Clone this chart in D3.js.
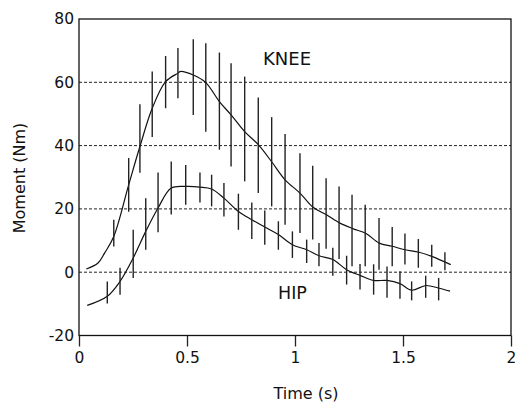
<!DOCTYPE html>
<html>
<head>
<meta charset="utf-8">
<script src="https://cdn.jsdelivr.net/npm/d3@7/dist/d3.min.js"></script>
<title>Knee and hip moment</title>
<style>
body {
	margin: 0;
	background: white;
}
svg text {
	font-family: "DejaVu Sans", "Liberation Sans", Arial, sans-serif;
	fill: #111;
}
</style>
</head>
<body>
<div id="graph"></div>
<script>

// -- data

var xTicks = [0, 0.5, 1, 1.5, 2];
var yTicks = [-20, 0, 20, 40, 60, 80];
var gridLines = [0, 20, 40, 60];

// knee mean curve
var kneeCurveT = [0.034, 0.088, 0.119, 0.161, 0.230, 0.282, 0.339, 0.401, 0.458, 0.468,
	0.529, 0.587, 0.650, 0.704, 0.767, 0.830, 0.892, 0.954, 1.023, 1.082,
	1.144, 1.208, 1.270, 1.329, 1.390, 1.450, 1.509, 1.574, 1.633, 1.721];
var kneeCurveV = [1.0, 2.9, 6.1, 11.3, 27.6, 39.7, 51.8, 60.2, 62.9, 63.4,
	62.3, 59.9, 53.9, 49.7, 44.4, 40.3, 34.9, 29.2, 25.0, 20.6,
	18.2, 15.5, 13.7, 12.2, 9.2, 8.2, 7.1, 6.3, 5.0, 2.4];

// knee error bars
var kneeBarT = [0.161, 0.230, 0.282, 0.339, 0.401, 0.458, 0.529, 0.587, 0.650, 0.704,
	0.767, 0.830, 0.892, 0.954, 1.023, 1.082, 1.144, 1.204, 1.264, 1.325,
	1.389, 1.450, 1.509, 1.571, 1.633, 1.694];
var kneeBarLow = [8.1, 19.1, 31.4, 42.7, 51.8, 55.0, 49.7, 44.4, 38.7, 33.4,
	28.7, 25.0, 20.8, 15.0, 12.4, 10.3, 7.4, 4.2, 1.9, 1.9,
	0.8, 1.9, 2.4, 1.4, 1.7, 0.6];
var kneeBarHigh = [16.6, 36.1, 53.1, 63.4, 68.3, 70.8, 73.6, 72.3, 69.4, 66.0,
	61.8, 55.2, 49.0, 43.7, 37.6, 33.6, 29.7, 27.1, 24.5, 21.3,
	17.1, 14.3, 12.2, 10.5, 8.7, 6.3];

// hip mean curve
var hipCurveT = [0.038, 0.131, 0.190, 0.251, 0.309, 0.366, 0.427, 0.494, 0.560, 0.614,
	0.671, 0.738, 0.800, 0.860, 0.923, 0.988, 1.054, 1.111, 1.175, 1.239,
	1.301, 1.363, 1.425, 1.486, 1.540, 1.606, 1.663, 1.718];
var hipCurveV = [-10.5, -7.6, -2.9, 4.5, 12.9, 20.3, 26.6, 27.1, 26.9, 26.3,
	23.4, 19.2, 16.6, 14.3, 11.9, 8.7, 7.1, 5.2, 4.0, 0.8,
	-1.0, -2.6, -2.6, -3.6, -5.7, -4.2, -5.0, -6.0];

// hip error bars
var hipBarT = [0.131, 0.190, 0.251, 0.309, 0.366, 0.427, 0.494, 0.560, 0.614, 0.671,
	0.738, 0.800, 0.860, 0.923, 0.988, 1.054, 1.111, 1.175, 1.239, 1.301,
	1.364, 1.426, 1.486, 1.540, 1.605, 1.665];
var hipBarLow = [-9.9, -7.1, -1.8, 7.1, 12.6, 18.2, 21.3, 22.0, 20.8, 17.6,
	13.4, 10.5, 8.7, 7.1, 4.5, 2.9, 1.9, -1.1, -3.9, -5.5,
	-7.1, -8.1, -8.4, -8.9, -8.1, -8.9];
var hipBarHigh = [-2.9, 1.4, 13.4, 23.4, 31.5, 35.0, 33.9, 31.5, 30.8, 28.2,
	24.8, 22.0, 19.5, 16.1, 12.9, 10.3, 9.2, 7.7, 5.2, 2.6,
	2.5, 1.8, 0.3, -2.9, -1.1, -1.8];

var labels = ["KNEE", "HIP"];

// -- setup

var margin = { top: 19, right: 4, bottom: 67.5, left: 79 },
	width = 515 - margin.left - margin.right,
	height = 403 - margin.top - margin.bottom;

var svg = d3.select("#graph")
	.append("svg")
		.attr("width", 515)
		.attr("height", 403)
	.append("g")
		.attr("transform", "translate(" + margin.left + "," + margin.top + ")");

var x = d3.scaleLinear().domain([0, 2]).range([0, width]);
var y = d3.scaleLinear().domain([-20, 80]).range([height, 0]);

// grid
svg.selectAll(".grid")
	.data(gridLines)
	.enter()
	.append("line")
		.attr("class", "grid")
		.attr("x1", 0)
		.attr("x2", width)
		.attr("y1", d => y(d))
		.attr("y2", d => y(d))
		.attr("stroke", "#222")
		.attr("stroke-width", 1)
		.attr("stroke-dasharray", "3,2");

// frame
svg.append("rect")
	.attr("width", width)
	.attr("height", height)
	.attr("fill", "none")
	.attr("stroke", "#111")
	.attr("stroke-width", 1.3);

// x axis
var xAxis = svg.append("g")
	.attr("transform", "translate(0," + height + ")")
	.call(d3.axisBottom(x)
		.tickValues(xTicks)
		.tickFormat(d => String(d))
		.tickSize(11)
		.tickSizeOuter(0)
		.tickPadding(5));
xAxis.select(".domain").remove();
xAxis.selectAll("line").attr("stroke", "#222").attr("stroke-width", 1.3);
xAxis.selectAll("text").style("font-size", "15.5px").attr("fill", "#111");

// y axis (plain hyphen for negatives, as in the original)
var yAxis = svg.append("g")
	.call(d3.axisLeft(y)
		.tickValues(yTicks)
		.tickFormat(d => String(d))
		.tickSize(0)
		.tickPadding(5));
yAxis.select(".domain").remove();
yAxis.selectAll("text").style("font-size", "15.5px").attr("fill", "#111");

// axis titles
svg.append("text")
	.attr("x", 306 - margin.left)
	.attr("y", 399 - margin.top)
	.style("text-anchor", "middle")
	.style("font-size", "16px")
	.text("Time (s)");

svg.append("text")
	.attr("transform", "translate(" + (25 - margin.left) + "," + (178 - margin.top) + ") rotate(-90)")
	.style("text-anchor", "middle")
	.style("font-size", "16px")
	.text("Moment (Nm)");

// -- series

var line = d3.line()
	.x(d => x(d[0]))
	.y(d => y(d[1]))
	.curve(d3.curveCatmullRom.alpha(0.5));

function drawSeries(curveT, curveV, barT, barLow, barHigh) {
	svg.append("path")
		.datum(curveT.map((t, i) => [t, curveV[i]]))
		.attr("fill", "none")
		.attr("stroke", "#111")
		.attr("stroke-width", 1.2)
		.attr("d", line);

	svg.append("g")
		.selectAll("line")
		.data(barT.map((t, i) => ({ t: t, lo: barLow[i], hi: barHigh[i] })))
		.enter()
		.append("line")
			.attr("x1", d => x(d.t))
			.attr("x2", d => x(d.t))
			.attr("y1", d => y(d.lo))
			.attr("y2", d => y(d.hi))
			.attr("stroke", "#222")
			.attr("stroke-width", 1.4);
}

drawSeries(kneeCurveT, kneeCurveV, kneeBarT, kneeBarLow, kneeBarHigh);
drawSeries(hipCurveT, hipCurveV, hipBarT, hipBarLow, hipBarHigh);

// series labels
svg.append("text")
	.attr("x", 263 - margin.left)
	.attr("y", 65 - margin.top)
	.style("font-size", "18px")
	.text(labels[0]);

svg.append("text")
	.attr("x", 278 - margin.left)
	.attr("y", 299 - margin.top)
	.style("font-size", "17.5px")
	.text(labels[1]);

</script>
</body>
</html>
